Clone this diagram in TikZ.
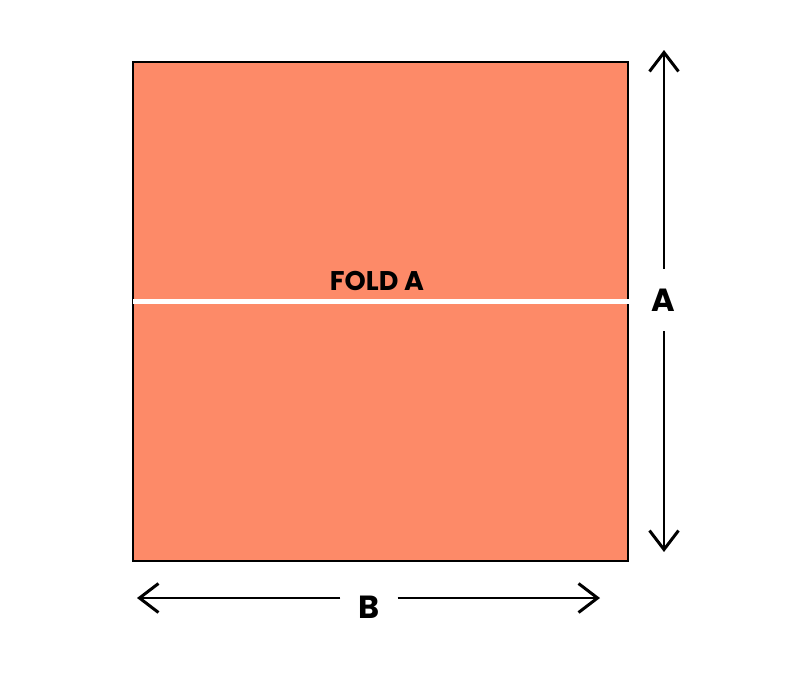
\documentclass[tikz,border=0pt]{standalone}
\usepackage{fontspec}
\setmainfont{Poppins}
\usetikzlibrary{positioning,arrows.meta}
\definecolor{sheet}{RGB}{253,138,104}
\tikzset{
  dimarrow/.style={-{Straight Barb[length=19pt,width=29pt,line width=3pt]}, line width=2.3pt},
  dimlabel/.style={font=\bfseries\fontsize{32}{32}\selectfont, inner sep=0pt}
}

\begin{document}
\begin{tikzpicture}[x=1pt,y=-1pt]
  \useasboundingbox (0,0) rectangle (800,683);
  \node[draw, line width=2.6pt, fill=sheet, minimum width=495pt, minimum height=499pt, inner sep=0pt] (P) at (380.5,311.5) {};
  \coordinate (F1) at (133,301);
  \coordinate (F2) at (629,301);
  \draw[white, line width=5pt] (F1) -- (F2);
  \node[font=\bfseries\fontsize{27}{27}\selectfont] (FA) at (377,281) {FOLD A};
  % dimension A
  \coordinate (At) at (664,50);
  \coordinate (Ab) at (664,552);
  \node[dimlabel, minimum height=62pt] (A) at (663,300) {A};
  \draw[dimarrow] (A.north -| At) -- (At);
  \draw[dimarrow] (A.south -| Ab) -- (Ab);
  % dimension B
  \coordinate (Bl) at (137,598);
  \coordinate (Br) at (600,598);
  \node[dimlabel, minimum width=57pt] (B) at (369,607) {B};
  \draw[dimarrow] (B.west |- Bl) -- (Bl);
  \draw[dimarrow] (B.east |- Br) -- (Br);
\end{tikzpicture}
\end{document}
